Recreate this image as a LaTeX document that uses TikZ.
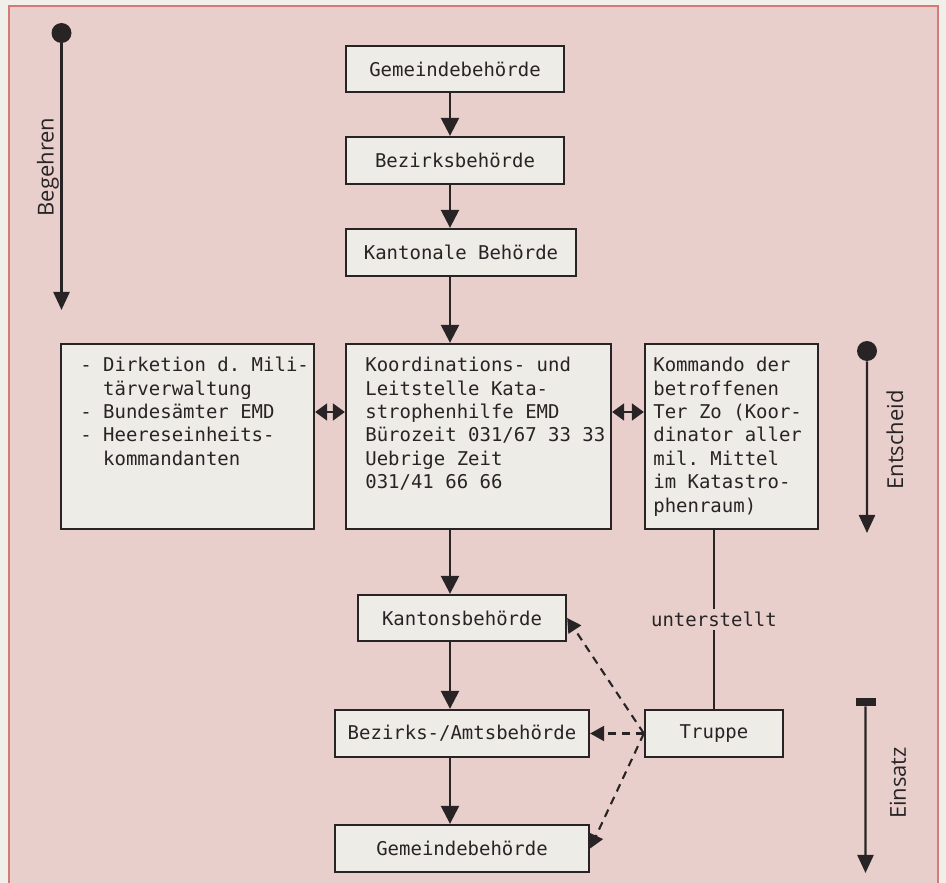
\documentclass[tikz,border=0pt]{standalone}
\usepackage{fontspec}
\setmonofont{DejaVu Sans Mono}
\setsansfont{Open Sans}
\usetikzlibrary{arrows.meta}
\definecolor{pinkbg}{RGB}{233,207,204}
\definecolor{boxfill}{RGB}{238,236,231}
\definecolor{paper}{RGB}{240,239,234}
\definecolor{edge}{RGB}{214,120,118}
\definecolor{ink}{RGB}{40,36,38}
\begin{document}
\begin{tikzpicture}[scale=0.2]
\tikzstyle{every node}+=[inner sep=0pt]
\tikzstyle{box}=[draw=ink, fill=boxfill, line width=1.3pt]
\tikzstyle{mono}=[font=\ttfamily\fontsize{10.8}{13.3}\selectfont, text=ink]
\tikzstyle{side}=[font=\sffamily\fontsize{12.5}{14}\selectfont, text=ink, rotate=90]
\tikzstyle{flow}=[draw=ink, line width=1.4pt, -{Triangle[length=0.36cm,width=0.36cm]}]
\tikzstyle{link}=[draw=ink, line width=1.1pt, {Triangle[length=0.24cm,width=0.34cm]}-{Triangle[length=0.24cm,width=0.34cm]}]
\tikzstyle{tolink}=[draw=ink, line width=1.2pt, dash pattern=on 0.16cm off 0.12cm, -{Triangle[length=0.28cm,width=0.3cm]}]
\tikzstyle{phase}=[draw=ink, line width=1.4pt, -{Triangle[length=0.36cm,width=0.32cm]}]
\useasboundingbox (0,0) rectangle (94.6,-88.3);
\fill [paper] (0,0) rectangle (94.6,-88.3);
\fill [pinkbg] (0.9,-0.6) rectangle (93.8,-88.3);
\draw [edge, line width=0.8pt] (0.9,-88.3) -- (0.9,-0.6) -- (93.8,-0.6) -- (93.8,-88.3);
\coordinate (axis) at (45,0);
\coordinate (mid) at (0,-41.2);
\node [box, mono, minimum width=4.36cm, minimum height=0.92cm] (g1) at (45.5,-6.9) {Gemeindebehörde};
\node [box, mono, minimum width=4.36cm, minimum height=0.94cm] (b1) at (45.5,-16.05) {Bezirksbehörde};
\node [box, mono, minimum width=4.6cm, minimum height=0.94cm] (k1) at (46.1,-25.25) {Kantonale Behörde};
\node [box, minimum width=5.06cm, minimum height=3.7cm] (dir) at (18.75,-43.65) {};
\node [mono, align=left, anchor=north west] (dir-text) at (8.0,-35.7) {- Dirketion d. Mili-\\\phantom{- }tärverwaltung\\- Bundesämter EMD\\- Heereseinheits-\\\phantom{- }kommandanten};
\node [box, minimum width=5.3cm, minimum height=3.7cm] (koord) at (47.85,-43.65) {};
\node [mono, align=left, anchor=north west] (koord-text) at (36.5,-35.7) {Koordinations- und\\Leitstelle Kata-\\strophenhilfe EMD\\Bürozeit 031/67 33 33\\Uebrige Zeit\\031/41 66 66};
\node [box, minimum width=3.46cm, minimum height=3.7cm] (kdo) at (73.15,-43.65) {};
\node [mono, align=left, anchor=north west] (kdo-text) at (65.3,-35.7) {Kommando der\\betroffenen\\Ter Zo (Koor-\\dinator aller\\mil. Mittel\\im Katastro-\\phenraum)};
\node [box, mono, minimum width=4.16cm, minimum height=0.92cm] (kb) at (46.2,-61.8) {Kantonsbehörde};
\node [box, mono, minimum width=5.08cm, minimum height=0.94cm] (ba) at (46.2,-73.35) {Bezirks-/Amtsbehörde};
\node [box, mono, minimum width=5.08cm, minimum height=0.94cm] (g2) at (46.2,-84.85) {Gemeindebehörde};
\node [box, mono, minimum width=2.76cm, minimum height=0.94cm] (tr) at (71.4,-73.35) {Truppe};
\draw [flow] (g1.south -| axis) -- (b1.north -| axis);
\draw [flow] (b1.south -| axis) -- (k1.north -| axis);
\draw [flow] (k1.south -| axis) -- (koord.north -| axis);
\draw [flow] (koord.south -| axis) -- (kb.north -| axis);
\draw [flow] (kb.south -| axis) -- (ba.north -| axis);
\draw [flow] (ba.south -| axis) -- (g2.north -| axis);
\draw [link] (dir.east |- mid) -- (koord.west |- mid);
\draw [link] (koord.east |- mid) -- (kdo.west |- mid);
\draw [ink, line width=1pt] (kdo.south -| tr.north) -- (tr.north) node [midway, fill=pinkbg, inner xsep=1pt, inner ysep=2pt, mono] (unt) {unterstellt};
\draw [tolink] (tr.west) -- (kb.east);
\draw [tolink] (tr.west) -- (ba.east);
\draw [tolink] (tr.west) -- (g2.east);
\node [circle, fill=ink, minimum size=0.4cm] (beg) at (6.15,-3.3) {};
\coordinate (beg-end) at (6.15,-31.0);
\draw [phase] (beg) -- (beg-end);
\node [side] (beg-label) at (4.8,-16.7) {Begehren};
\node [circle, fill=ink, minimum size=0.4cm] (ent) at (86.7,-35.1) {};
\coordinate (ent-end) at (86.7,-53.3);
\draw [phase] (ent) -- (ent-end);
\node [side] (ent-label) at (89.5,-44.0) {Entscheid};
\node [fill=ink, minimum width=0.4cm, minimum height=0.16cm] (ein) at (86.55,-70.2) {};
\coordinate (ein-end) at (86.55,-87.3);
\draw [phase] (ein) -- (ein-end);
\node [side] (ein-label) at (89.8,-78.3) {Einsatz};
\end{tikzpicture}
\end{document}
